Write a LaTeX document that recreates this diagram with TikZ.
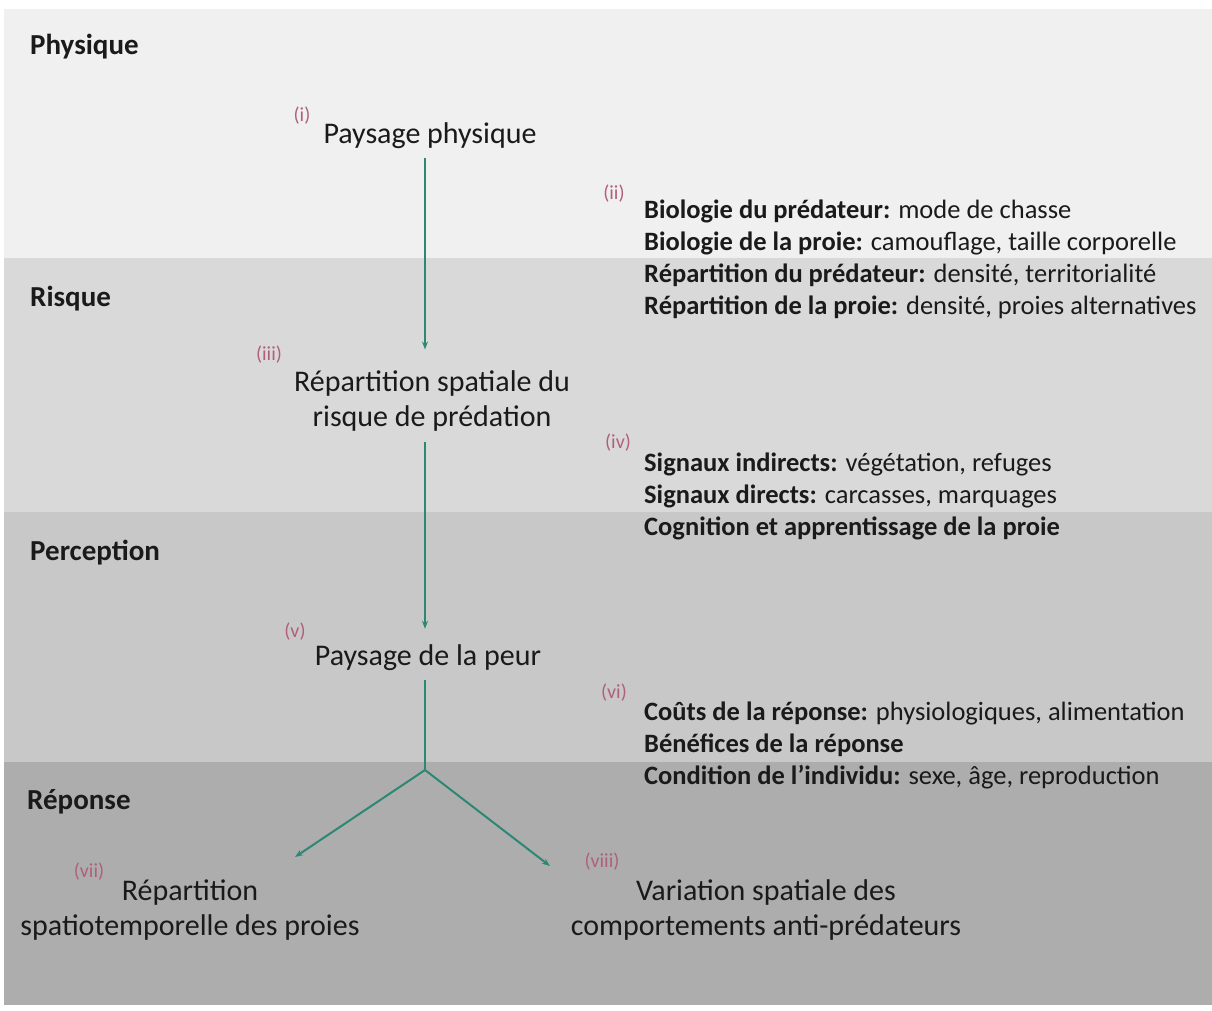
\documentclass[tikz,border=0pt]{standalone}
\usepackage{fontspec}
\setmainfont{Carlito}
\usepackage{xcolor}
\usetikzlibrary{arrows.meta}
\definecolor{bphys}{HTML}{F0F0F0}
\definecolor{brisk}{HTML}{D9D9D9}
\definecolor{bperc}{HTML}{C8C8C8}
\definecolor{brep}{HTML}{ADADAD}
\definecolor{vteal}{HTML}{2E8775}
\definecolor{vpink}{HTML}{B0607A}
\definecolor{vblack}{HTML}{1A1A1A}

\tikzset{
	band/.style = {font = \fontsize{29}{34}\selectfont\bfseries, text = vblack, anchor = west, inner sep = 0pt},
	stage/.style = {font = \fontsize{30}{35}\selectfont, text = vblack, align = center, inner sep = 0pt},
	num/.style = {font = \fontsize{20}{24}\selectfont, text = vpink, inner sep = 0pt},
	factors/.style = {font = \fontsize{26.5}{32}\selectfont, text = vblack, align = left, anchor = north west, inner sep = 0pt},
	flow/.style = {draw = vteal, line width = 2pt, -{Stealth[length = 8pt, width = 6pt]}}
}

\begin{document}
\begin{tikzpicture}[x = 1pt, y = -1pt]
	\useasboundingbox (0,0) rectangle (1212,1010);
	\fill[white] (0,0) rectangle (1212,1010);
	% bands
	\fill[bphys] (4,9) rectangle (1212,258);
	\fill[brisk] (4,258) rectangle (1212,512);
	\fill[bperc] (4,512) rectangle (1212,762);
	\fill[brep] (4,762) rectangle (1212,1005);
	\node[band] (physique) at (30,47) {Physique};
	\node[band] (risque) at (30,299) {Risque};
	\node[band] (perception) at (30,553) {Perception};
	\node[band] (reponse) at (27,802) {Réponse};
	% stages
	\node[stage] (paysage) at (430,136) {Paysage physique};
	\node[num] (n1) at (302,116) {(i)};
	\node[stage] (risk) at (432,401) {Répartition spatiale du\\risque de prédation};
	\node[num] (n3) at (269,355) {(iii)};
	\node[stage] (peur) at (428,658) {Paysage de la peur};
	\node[num] (n5) at (295,632) {(v)};
	\node[stage] (distrib) at (190,910) {Répartition\\spatiotemporelle des proies};
	\node[num] (n7) at (89,872) {(vii)};
	\node[stage] (behav) at (766,910) {Variation spatiale des\\comportements anti-prédateurs};
	\node[num] (n8) at (602,862) {(viii)};
	% factors
	\node[num] (n2) at (614,194) {(ii)};
	\node[factors] (fac2) at (644,200) {\textbf{Biologie du prédateur:} mode de chasse\\
		\textbf{Biologie de la proie:} camouflage, taille corporelle\\
		\textbf{Répartition du prédateur:} densité, territorialité\\
		\textbf{Répartition de la proie:} densité, proies alternatives};
	\node[num] (n4) at (618,443) {(iv)};
	\node[factors] (fac4) at (644,453) {\textbf{Signaux indirects:} végétation, refuges\\
		\textbf{Signaux directs:} carcasses, marquages\\
		\textbf{Cognition et apprentissage de la proie}};
	\node[num] (n6) at (614,693) {(vi)};
	\node[factors] (fac6) at (644,702) {\textbf{Coûts de la réponse:} physiologiques, alimentation\\
		\textbf{Bénéfices de la réponse}\\
		\textbf{Condition de l’individu:} sexe, âge, reproduction};
	% connectors
	\coordinate (fork) at (425,770);
	\coordinate (tipA) at (295,857);
	\coordinate (tipB) at (550,866);
	\draw[flow, shorten <= 9pt, shorten >= 21pt] (paysage.south -| fork) -- (risk.north -| fork);
	\draw[flow, shorten <= 10pt, shorten >= 16pt] (risk.south -| fork) -- (peur.north -| fork);
	\draw[draw = vteal, line width = 2pt, shorten <= 9pt] (peur.south -| fork) -- (fork);
	\draw[flow] (fork) -- (tipA);
	\draw[flow] (fork) -- (tipB);
\end{tikzpicture}
\end{document}
